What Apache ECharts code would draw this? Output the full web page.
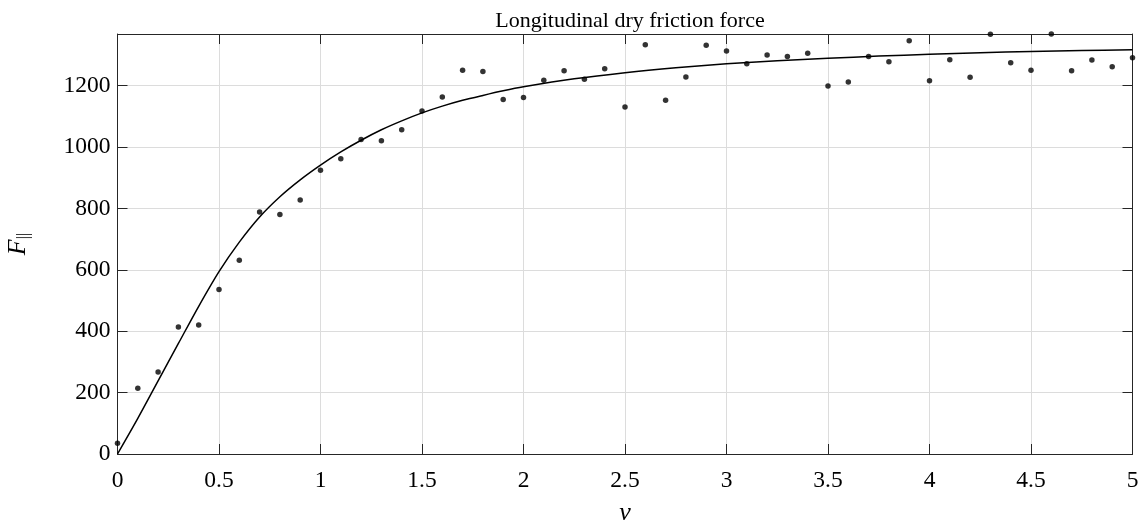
<!DOCTYPE html>
<html>
<head>
<meta charset="utf-8">
<script src="https://cdn.jsdelivr.net/npm/echarts@6/dist/echarts.min.js"></script>
<style>html,body{margin:0;padding:0;background:#fff;}#c{width:1143px;height:527px;}</style>
</head>
<body>
<div id="c"></div>
<script>
// Measured samples (dots)
const sampleV = [0,0.1,0.2,0.3,0.4,0.5,0.6,0.7,0.8,0.9,1.0,1.1,1.2,1.3,1.4,1.5,1.6,1.7,1.8,1.9,2.0,2.1,2.2,2.3,2.4,2.5,2.6,2.7,2.8,2.9,3.0,3.1,3.2,3.3,3.4,3.5,3.6,3.7,3.8,3.9,4.0,4.1,4.2,4.3,4.4,4.5,4.6,4.7,4.8,4.9,5.0];
const sampleF = [35,214,267,414,420,536,631,788,780,827,924,962,1024,1020,1056,1117,1163,1250,1246,1155,1161,1217,1248,1221,1255,1130,1333,1152,1228,1331,1313,1271,1300,1295,1305,1199,1212,1295,1278,1346,1216,1284,1227,1367,1274,1250,1368,1248,1283,1261,1291];
// Fitted curve
const curveV = [0,0.1,0.2,0.3,0.4,0.5,0.6,0.7,0.8,0.9,1.0,1.1,1.2,1.3,1.4,1.5,1.6,1.7,1.8,1.9,2.0,2.25,2.5,2.75,3.0,3.25,3.5,3.75,4.0,4.25,4.5,4.75,5.0];
const curveF = [0,116,238,360,481,594,690,772,838,893,941,984,1022,1056,1085,1111,1133,1152,1168,1183,1196,1222,1242,1258,1271,1281,1289,1296,1302,1307,1311,1314,1317];
const xTicks = [0,0.5,1,1.5,2,2.5,3,3.5,4,4.5,5];
const yTicks = [0,200,400,600,800,1000,1200];
const titleText = 'Longitudinal dry friction force';

const font = '"Liberation Serif","Times New Roman",serif';
const axisColor = '#262626';
const xMin = xTicks[0], xMax = xTicks[xTicks.length-1];
const yMin = 0, yMax = 1368;

function fmtX(v){ return xTicks.some(t=>Math.abs(t-v)<1e-9) ? String(+v.toFixed(2)) : ''; }
function fmtY(v){ return yTicks.indexOf(Math.round(v))>=0 && Math.abs(v-Math.round(v))<1e-9 ? String(v) : ''; }

const chart = echarts.init(document.getElementById('c'), null, {renderer:'canvas'});
const baseX = {
  type:'value', min:xMin, max:xMax, interval:0.5,
  axisLine:{show:true, onZero:false, lineStyle:{color:axisColor, width:1}},
  axisTick:{show:true, inside:true, length:10, lineStyle:{color:axisColor}},
};
const baseY = {
  type:'value', min:yMin, max:yMax, interval:200,
  axisLine:{show:true, onZero:false, lineStyle:{color:axisColor, width:1}},
  axisTick:{show:true, inside:true, length:10, lineStyle:{color:axisColor}},
};
chart.setOption({
  animation:false,
  backgroundColor:'#fff',
  title:{text:titleText, left:625, textAlign:'center', top:5,
    textStyle:{fontFamily:font, fontSize:22, fontWeight:'normal', color:'#000'}},
  grid:{left:117.5, right:10.5, top:34, bottom:73, containLabel:false, outerBoundsMode:'none'},
  xAxis:[
    Object.assign({}, baseX, {position:'bottom',
      name:'v', nameLocation:'middle', nameGap:46,
      nameTextStyle:{fontFamily:font, fontSize:26, fontStyle:'italic', color:'#000'},
      axisLabel:{show:true, margin:15, formatter:fmtX, fontFamily:font, fontSize:23.5, color:'#000'},
      splitLine:{show:true, lineStyle:{color:'#dcdcdc', width:1}}}),
    Object.assign({}, baseX, {position:'top', axisLabel:{show:false}, splitLine:{show:false}})
  ],
  yAxis:[
    Object.assign({}, baseY, {position:'left',
      name:'{f|F}{s|||}', nameLocation:'middle', nameGap:86, nameRotate:90,
      nameTextStyle:{rich:{
        f:{fontFamily:font, fontSize:26, fontStyle:'italic', color:'#000'},
        s:{fontFamily:font, fontSize:16, color:'#000', verticalAlign:'bottom', padding:[10,0,0,0]}
      }},
      axisLabel:{show:true, margin:7, formatter:fmtY, fontFamily:font, fontSize:23.5, color:'#000'},
      splitLine:{show:true, lineStyle:{color:'#dcdcdc', width:1}}}),
    Object.assign({}, baseY, {position:'right', axisLabel:{show:false}, splitLine:{show:false}})
  ],
  series:[
    {type:'line', xAxisIndex:0, yAxisIndex:0, data:curveV.map((v,i)=>[v,curveF[i]]),
      smooth:0.3, showSymbol:false, symbol:'none', clip:false,
      lineStyle:{color:'#000', width:1.5}, z:3},
    {type:'scatter', xAxisIndex:0, yAxisIndex:0, data:sampleV.map((v,i)=>[v,sampleF[i]]),
      symbol:'circle', symbolSize:5.5, clip:false,
      itemStyle:{color:'#000'}, z:4}
  ]
});
</script>
</body>
</html>
